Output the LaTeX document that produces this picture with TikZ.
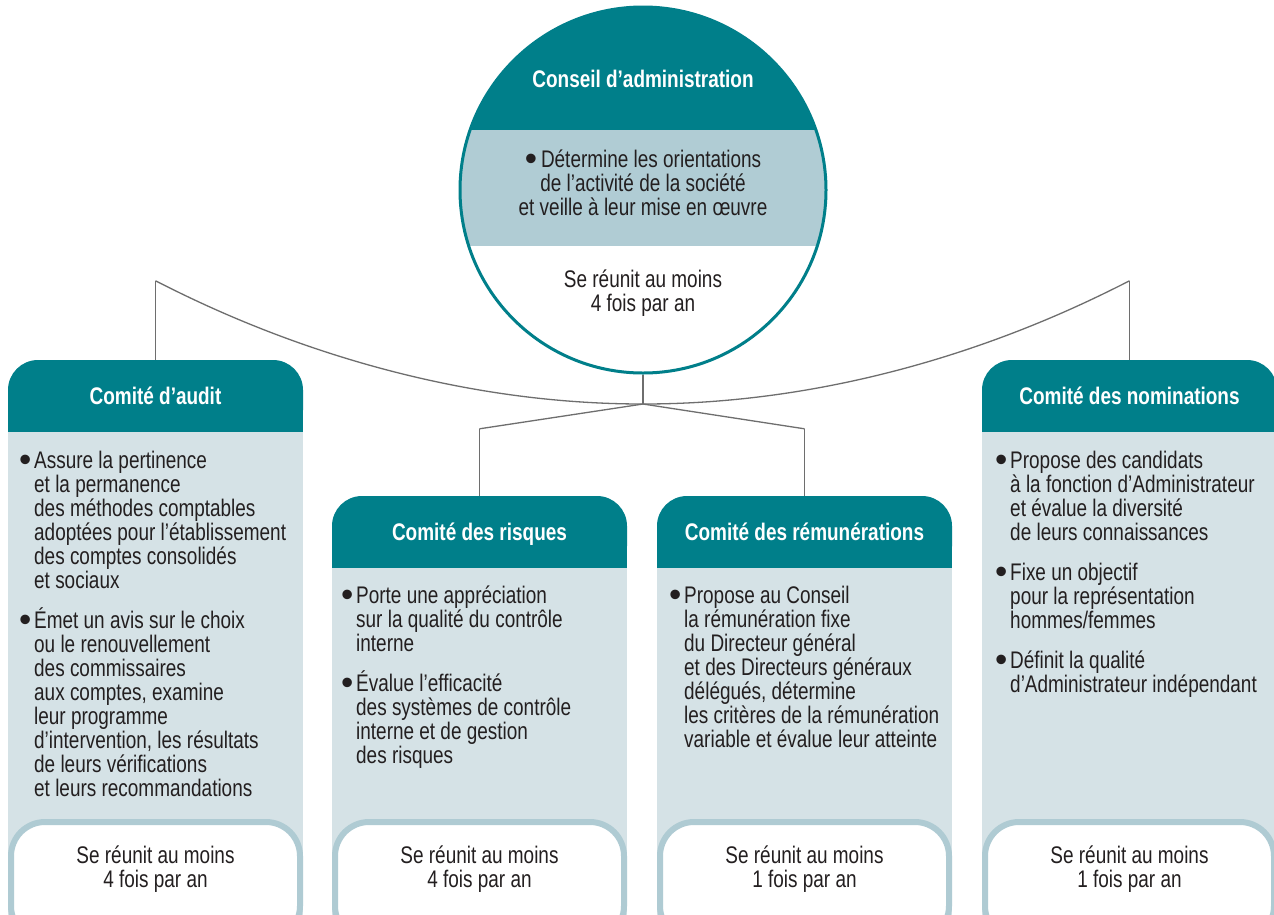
\documentclass[tikz,border=0pt]{standalone}
\usepackage{fontspec}
\setmainfont[FakeStretch=0.79]{Liberation Sans}
\newfontfamily\bulfont{Liberation Sans}
\definecolor{tealc}{RGB}{0,127,138}
\definecolor{panelc}{RGB}{213,226,230}
\definecolor{bandc}{RGB}{176,204,212}
\definecolor{meetc}{RGB}{175,203,211}
\definecolor{linec}{RGB}{110,110,110}
\definecolor{txt}{RGB}{35,31,32}
\lineskiplimit=-50pt
\parskip=0pt
\newcommand\nl{\hfil\break}
\newcommand\bul{\makebox[15pt][l]{\raisebox{-3.5pt}{\bulfont\fontsize{35}{24}\selectfont\char"2022}}}
\newcommand\bitem[1]{\par\spaceskip=0pt\xspaceskip=0pt\hangindent=15pt\hangafter=1\noindent\bul\rule{0pt}{22pt}#1\par}
\newcommand\igap{\vspace{16pt}}
\newcommand\cpanel[3]{%
  \fill[tealc, rounded corners=30pt] (#1,#2) rectangle ++(295,80);
  \fill[tealc] (#1,#2+35) rectangle (#1+295,#3);
  \fill[panelc] (#1,#3) rectangle (#1+295,960);
  \draw[draw=meetc, line width=6pt, fill=white, rounded corners=34pt] (#1+3,822) rectangle (#1+292,940);
}
\begin{document}
\begin{tikzpicture}[x=1pt,y=-1pt,
  ttl/.style={text=white, font=\bfseries\fontsize{24}{24}\selectfont, inner sep=0pt, text height=17pt, text depth=0pt},
  hdr/.style={ttl, minimum width=295pt, minimum height=72pt},
  lst/.style={anchor=north west, inner sep=0pt, text width=285pt, text=txt, font=\fontsize{24}{24}\selectfont\raggedright},
  ctr/.style={anchor=north, inner sep=0pt, align=center, text=txt, font=\fontsize{24}{24}\selectfont},
  conn/.style={draw=linec, line width=1.3pt}]
\useasboundingbox (0,0) rectangle (1274,914);
\clip (0,0) rectangle (1274,914);
\fill[white] (0,0) rectangle (1274,914);

% circle bands
\begin{scope}
  \clip (643,190) circle (183pt);
  \fill[tealc] (440,0) rectangle (850,130);
  \fill[bandc] (440,130) rectangle (850,246);
\end{scope}
\node[circle, minimum size=366pt, draw=tealc, line width=3pt, inner sep=0pt] (ca) at (643,190) {};

% committee panels
\cpanel{8}{360}{432}
\cpanel{332}{496}{568}
\cpanel{657}{496}{568}
\cpanel{982}{360}{432}

% circle texts
\node[ttl] (catitle) at (643,79) {Conseil d’administration};
\node[ctr] (catext) at (643,145) {\rule{0pt}{22pt}{\raisebox{-3.5pt}{\bulfont\fontsize{35}{24}\selectfont\char"2022}}\,Détermine les orientations\\de l’activité de la société\\et veille à leur mise en œuvre};
\node[ctr] (cameet) at (643,265) {\rule{0pt}{22pt}Se réunit au moins\\4 fois par an};

% headers
\node[hdr] (audit) at (155.5,396) {Comité d’audit};
\node[hdr] (risk) at (479.5,532) {Comité des risques};
\node[hdr] (remu) at (804.5,532) {Comité des rémunérations};
\node[hdr] (nomin) at (1129.5,396) {Comité des nominations};

% lists
\node[lst] (auditlist) at (19,444) {%
\bitem{Assure la pertinence\nl et la permanence\nl des méthodes comptables\nl adoptées pour l’établissement\nl des comptes consolidés\nl et sociaux}\igap
\bitem{Émet un avis sur le choix\nl ou le renouvellement\nl des commissaires\nl aux comptes, examine\nl leur programme\nl d’intervention, les résultats\nl de leurs vérifications\nl et leurs recommandations}};
\node[lst] (risklist) at (341,579) {%
\bitem{Porte une appréciation\nl sur la qualité du contrôle\nl interne}\igap
\bitem{Évalue l’efficacité\nl des systèmes de contrôle\nl interne et de gestion\nl des risques}};
\node[lst] (remulist) at (669,579) {%
\bitem{Propose au Conseil\nl la rémunération fixe\nl du Directeur général\nl et des Directeurs généraux\nl délégués, détermine\nl les critères de la rémunération\nl variable et évalue leur atteinte}};
\node[lst] (nominlist) at (995,444) {%
\bitem{Propose des candidats\nl à la fonction d’Administrateur\nl et évalue la diversité\nl de leurs connaissances}\igap
\bitem{Fixe un objectif\nl pour la représentation\nl hommes/femmes}\igap
\bitem{Définit la qualité\nl d’Administrateur indépendant}};

% meeting texts
\node[ctr] (auditmeet) at (155.5,841) {\rule{0pt}{22pt}Se réunit au moins\\4 fois par an};
\node[ctr] (riskmeet) at (479.5,841) {\rule{0pt}{22pt}Se réunit au moins\\4 fois par an};
\node[ctr] (remumeet) at (804.5,841) {\rule{0pt}{22pt}Se réunit au moins\\1 fois par an};
\node[ctr] (nominmeet) at (1129.5,841) {\rule{0pt}{22pt}Se réunit au moins\\1 fois par an};

% connectors
\coordinate (junc) at (643,404);
\coordinate (jl) at ([yshift=79pt]audit.north);
\coordinate (jr) at ([yshift=79pt]nomin.north);
\coordinate (bl) at ([yshift=67pt]risk.north);
\coordinate (br) at ([yshift=67pt]remu.north);
\draw[conn] (ca.south) -- (junc);
\draw[conn] (jl) parabola bend (junc) (jr);
\draw[conn] (jl) -- (audit.north);
\draw[conn] (jr) -- (nomin.north);
\draw[conn] (bl) -- (junc) -- (br);
\draw[conn] (bl) -- (risk.north);
\draw[conn] (br) -- (remu.north);
\end{tikzpicture}
\end{document}
